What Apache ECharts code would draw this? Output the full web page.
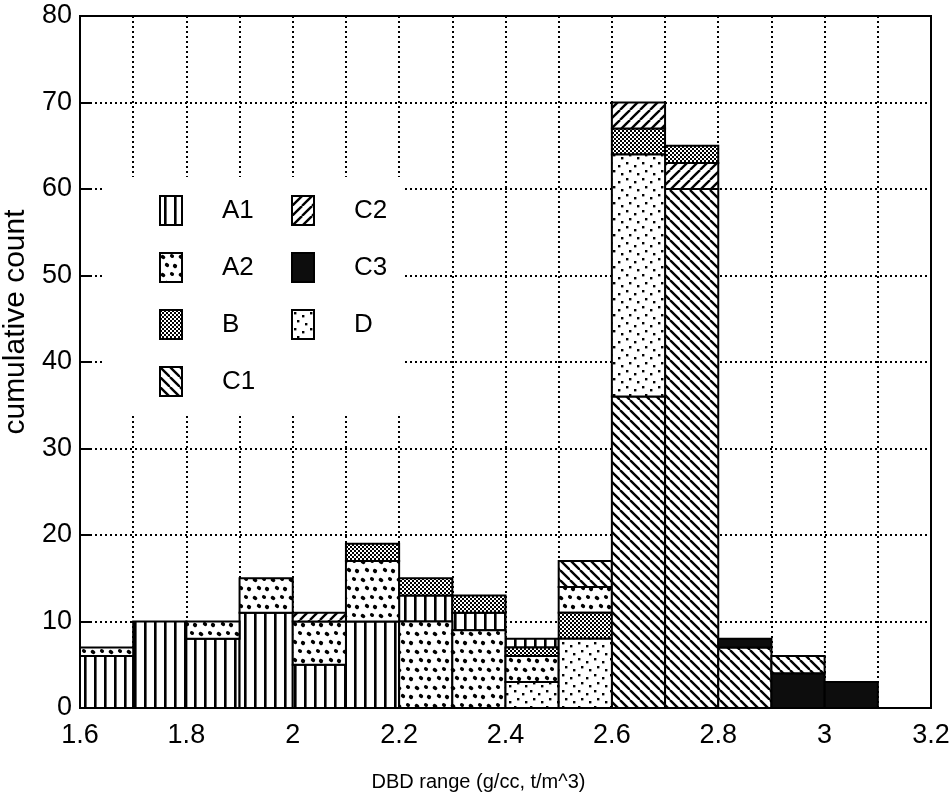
<!DOCTYPE html>
<html>
<head>
<meta charset="utf-8">
<title>DBD range histogram</title>
<script src="https://cdn.jsdelivr.net/npm/echarts@6/dist/echarts.min.js"></script>
<style>
  html, body { margin: 0; padding: 0; background: #fff; }
  #chart { width: 952px; height: 812px; }
</style>
</head>
<body>
<div id="chart"></div>
<script>
// bins of width 0.1 g/cc, from 1.6 to 3.1
const binStart = [1.6, 1.7, 1.8, 1.9, 2.0, 2.1, 2.2, 2.3, 2.4, 2.5, 2.6, 2.7, 2.8, 2.9, 3.0];
const binWidth = 0.1;

const categories = ['A1', 'A2', 'B', 'C1', 'C2', 'C3', 'D'];
const A1 = [6, 10, 8, 11, 5, 10, 3, 2, 1, 0, 0, 0, 0, 0, 0];
const A2 = [1, 0, 2, 4, 5, 7, 10, 9, 3, 3, 0, 0, 0, 0, 0];
const B  = [0, 0, 0, 0, 0, 2, 2, 2, 1, 3, 3, 2, 0, 0, 0];
const C1 = [0, 0, 0, 0, 0, 0, 0, 0, 0, 3, 36, 60, 7, 2, 0];
const C2 = [0, 0, 0, 0, 1, 0, 0, 0, 0, 0, 3, 3, 0, 0, 0];
const C3 = [0, 0, 0, 0, 0, 0, 0, 0, 0, 0, 0, 0, 1, 4, 3];
const D  = [0, 0, 0, 0, 0, 0, 0, 0, 3, 8, 28, 0, 0, 0, 0];

// order of the blocks in each bin, bottom to top
const stackOrder = ['A1 A2', 'A1', 'A1 A2', 'A1 A2', 'A1 A2 C2', 'A1 A2 B', 'A2 A1 B', 'A2 A1 B',
  'D A2 B A1', 'D B A2 C1', 'C1 D B C2', 'C1 C2 B', 'C1 C3', 'C3 C1', 'C3'];

const yTicks = [0, 10, 20, 30, 40, 50, 60, 70, 80];

const vals = { A1: A1, A2: A2, B: B, C1: C1, C2: C2, C3: C3, D: D };

// --- fill patterns, drawn on little canvases
function tile(w, h, draw) {
  const c = document.createElement('canvas');
  c.width = w; c.height = h;
  const ctx = c.getContext('2d');
  ctx.fillStyle = '#fff';
  ctx.fillRect(0, 0, w, h);
  ctx.fillStyle = '#000';
  ctx.strokeStyle = '#000';
  draw(ctx, w, h);
  return { image: c, repeat: 'repeat' };
}
function blob(ctx, x, y, rx, ry) {
  ctx.beginPath();
  ctx.ellipse(x, y, rx, ry, 0.6, 0, Math.PI * 2);
  ctx.fill();
}
const patterns = {
  A1: tile(10, 10, (ctx) => { ctx.fillRect(4, 0, 2.6, 10); }),
  A2: tile(18, 18, (ctx) => {
    blob(ctx, 3, 4, 2.4, 1.9); blob(ctx, 12, 3, 2.2, 1.8);
    blob(ctx, 7, 12, 2.3, 1.9); blob(ctx, 15, 13, 2.2, 2);
  }),
  B: tile(4, 4, (ctx) => { ctx.fillRect(0, 0, 2, 2); ctx.fillRect(2, 2, 2, 2); }),
  C1: tile(10, 10, (ctx, w) => {
    ctx.lineWidth = 2.4;
    [-w, 0, w].forEach(k => { ctx.beginPath(); ctx.moveTo(k, 0); ctx.lineTo(k + w, w); ctx.stroke(); });
  }),
  C2: tile(10, 10, (ctx, w) => {
    ctx.lineWidth = 2.4;
    [-w, 0, w].forEach(k => { ctx.beginPath(); ctx.moveTo(k, w); ctx.lineTo(k + w, 0); ctx.stroke(); });
  }),
  C3: '#0d0d0d',
  D: tile(16, 16, (ctx) => {
    ctx.fillRect(2, 2, 2.4, 2.4); ctx.fillRect(10, 5, 2.4, 2.4);
    ctx.fillRect(5, 10, 2.4, 2.4); ctx.fillRect(13, 13, 2.4, 2.4);
  })
};

// build stacked rectangles [x0, x1, y0, y1] for each category
const rects = {};
categories.forEach(n => { rects[n] = []; });
binStart.forEach((x0, i) => {
  let base = 0;
  stackOrder[i].split(' ').forEach(n => {
    const v = vals[n][i];
    if (v > 0) {
      rects[n].push([x0, +(x0 + binWidth).toFixed(1), base, base + v]);
      base += v;
    }
  });
});

function renderRect(params, api) {
  const p0 = api.coord([api.value(0), api.value(3)]);
  const p1 = api.coord([api.value(1), api.value(2)]);
  return {
    type: 'rect',
    shape: { x: p0[0], y: p0[1], width: p1[0] - p0[0], height: p1[1] - p0[1] },
    style: { fill: patterns[categories[params.seriesIndex]], stroke: '#000', lineWidth: 2 }
  };
}

const font = "'Liberation Sans Narrow', 'Liberation Sans', Arial, sans-serif";

const chart = echarts.init(document.getElementById('chart'), null, { renderer: 'canvas' });

const legendBase = {
  orient: 'vertical',
  backgroundColor: '#fff',
  itemWidth: 22,
  itemHeight: 29,
  itemGap: 26,
  selectedMode: false,
  icon: 'rect',
  itemStyle: { borderColor: '#000', borderWidth: 2 },
  textStyle: { fontFamily: font, fontSize: 26, color: '#000', padding: [0, 0, 0, 35] },
  z: 5
};

const option = {
  backgroundColor: '#fff',
  animation: false,
  grid: {
    left: 80, right: 21, top: 16, bottom: 104,
    outerBoundsMode: 'none', containLabel: false,
    show: true, borderColor: '#000', borderWidth: 2
  },
  legend: [
    Object.assign({}, legendBase, { data: ['A1', 'A2', 'B', 'C1'], left: 105, top: 177, padding: [18, 23, 19, 54] }),
    Object.assign({}, legendBase, { data: ['C2', 'C3', 'D'], left: 270, top: 177, padding: [18, 16, 76, 21] })
  ],
  xAxis: {
    type: 'value',
    min: 1.6,
    max: 3.2,
    interval: 0.1,
    name: 'DBD range (g/cc, t/m^3)',
    nameLocation: 'middle',
    nameGap: 64,
    nameTextStyle: { fontFamily: font, fontSize: 20, color: '#000', padding: [0, 54, 0, 0] },
    axisLine: { lineStyle: { color: '#000', width: 2 } },
    axisTick: { show: false },
    axisLabel: {
      margin: 14,
      fontFamily: font, fontSize: 27, color: '#000',
      formatter: (v) => { const k = Math.round(v * 10); return k % 2 === 0 ? String(k / 10) : ''; }
    },
    splitLine: { show: true, lineStyle: { color: '#000', width: 2, type: [2, 3] } }
  },
  yAxis: {
    type: 'value',
    min: yTicks[0],
    max: yTicks[yTicks.length - 1],
    interval: yTicks[1] - yTicks[0],
    name: 'cumulative count',
    nameLocation: 'middle',
    nameGap: 44,
    nameTextStyle: { fontFamily: font, fontSize: 30, color: '#000', padding: [0, 0, 0, 80] },
    axisLine: { lineStyle: { color: '#000', width: 2 } },
    axisTick: { show: true, inside: true, length: 10, lineStyle: { color: '#000', width: 2 } },
    axisLabel: { margin: 8, fontFamily: font, fontSize: 27, color: '#000' },
    splitLine: { show: true, lineStyle: { color: '#000', width: 2, type: [2, 3] } }
  },
  series: categories.map(n => ({
    name: n,
    type: 'custom',
    renderItem: renderRect,
    itemStyle: { color: patterns[n], borderColor: '#000', borderWidth: 2 },
    encode: { x: [0, 1], y: [2, 3] },
    data: rects[n],
    z: 3
  }))
};

chart.setOption(option);
</script>
</body>
</html>
